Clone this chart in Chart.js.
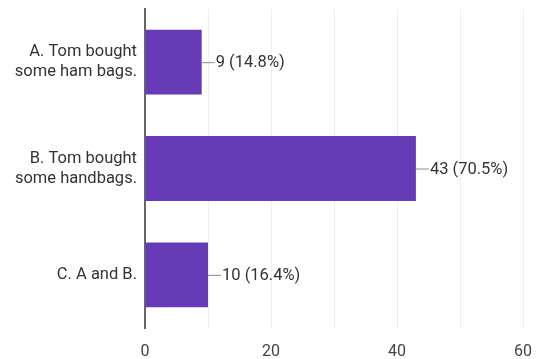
<!DOCTYPE html>
<html>
<head>
<meta charset="utf-8">
<script src="https://cdn.jsdelivr.net/npm/chart.js@4"></script>
<style>
  html, body { margin: 0; padding: 0; background: #fff; }
  #wrap { width: 538px; height: 359px; }
</style>
</head>
<body>
<div id="wrap"><canvas id="myChart"></canvas></div>
<script>
// answers and counts
var categories = [
  ["A. Tom bought", "some ham bags."],
  ["B. Tom bought", "some handbags."],
  ["C. A and B."]
];
var counts = [9, 43, 10];
var percents = ["14.8%", "70.5%", "16.4%"];
var tickStep = 20;

var fontFam = "Roboto, 'Noto Sans', sans-serif";

// label with a small leader line after each bar
var valueLabels = {
  id: "valueLabels",
  afterDatasetsDraw: function(chart) {
    var ctx = chart.ctx;
    var meta = chart.getDatasetMeta(0);
    ctx.save();
    ctx.font = "16.5px " + fontFam;
    ctx.textBaseline = "middle";
    ctx.textAlign = "left";
    meta.data.forEach(function(bar, i) {
      var x = bar.x, y = bar.y;
      ctx.strokeStyle = "#8a8a8a";
      ctx.lineWidth = 1;
      ctx.beginPath();
      ctx.moveTo(x, y + 0.5);
      ctx.lineTo(x + 13, y + 0.5);
      ctx.stroke();
      ctx.fillStyle = "#333";
      ctx.fillText(counts[i] + " (" + percents[i] + ")", x + 14, y + 1);
    });
    ctx.restore();
  }
};

new Chart("myChart", {
  type: "bar",
  data: {
    labels: categories,
    datasets: [{
      data: counts,
      backgroundColor: "#673ab7",
      barPercentage: 0.61,
      categoryPercentage: 1
    }]
  },
  options: {
    indexAxis: "y",
    responsive: true,
    maintainAspectRatio: false,
    animation: false,
    layout: { padding: { top: 9, right: 15, left: 0, bottom: 0 } },
    plugins: {
      legend: { display: false },
      tooltip: { enabled: false }
    },
    scales: {
      x: {
        min: 0,
        max: 60,
        ticks: {
          stepSize: 10,
          color: "#444",
          font: { family: fontFam, size: 16 },
          padding: 14,
          callback: function(v) { return v % tickStep === 0 ? v : ""; }
        },
        grid: { color: "#eeeeee", drawTicks: false },
        border: { display: false },
        afterFit: function(s) { s.height = 31; s.paddingLeft = 0; s.paddingRight = 0; }
      },
      y: {
        ticks: {
          color: "#333",
          font: { family: fontFam, size: 16.5, lineHeight: 1.22 },
          padding: 0
        },
        grid: { display: false },
        border: { display: true, color: "#666", width: 2 },
        afterFit: function(s) { s.width = 145; s.paddingTop = 0; s.paddingBottom = 0; }
      }
    }
  },
  plugins: [valueLabels]
});
</script>
</body>
</html>
